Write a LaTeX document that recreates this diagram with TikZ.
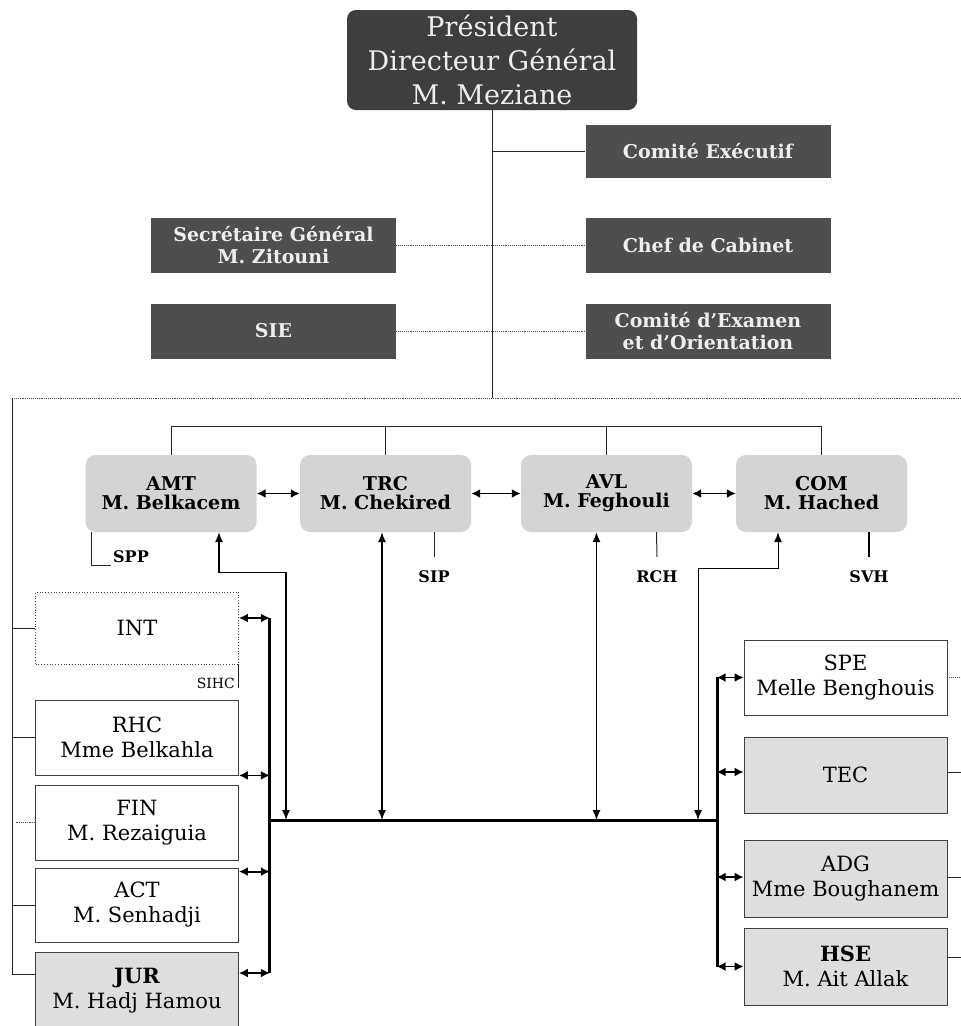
\documentclass[tikz,border=0pt]{standalone}
\usepackage{fontspec}
\setmainfont{DejaVu Serif}
\usetikzlibrary{arrows.meta}
\definecolor{presfill}{HTML}{3E3E3E}
\definecolor{darkfill}{HTML}{4E4E4E}
\definecolor{lighttext}{HTML}{EEEEEE}
\definecolor{lightbox}{HTML}{D4D4D4}
\definecolor{palebox}{HTML}{DEDEDE}
\definecolor{edge}{HTML}{404040}
\tikzset{
  presbox/.style={fill=presfill, text=lighttext, rounded corners=9pt, inner sep=0pt,
    align=center, minimum width=290pt, minimum height=100pt, font=\fontsize{27}{34}\selectfont},
  darkbox/.style={fill=darkfill, text=lighttext, inner sep=0pt, align=center,
    minimum width=245pt, minimum height=55pt, font=\bfseries\fontsize{19}{22}\selectfont},
  actbox/.style={fill=lightbox, rounded corners=10pt, inner sep=0pt, align=center,
    minimum width=171pt, minimum height=77pt, font=\bfseries\fontsize{19}{19}\selectfont},
  unitbox/.style={draw=edge, line width=0.8pt, fill=white, inner sep=0pt, align=center,
    minimum width=203pt, font=\fontsize{21}{25}\selectfont},
  greyunit/.style={unitbox, fill=palebox},
  tag/.style={inner sep=2pt, font=\bfseries\fontsize{16}{16}\selectfont},
  thinline/.style={line width=1pt, draw=black!85},
  dotline/.style={line width=0.9pt, draw=black!70, densely dotted},
  bus/.style={line width=3pt, draw=black},
  dbl/.style={{Latex[length=9pt,width=9pt]}-{Latex[length=9pt,width=9pt]}, line width=1.8pt},
  vdbl/.style={{Latex[length=10pt,width=8pt]}-{Latex[length=10pt,width=8pt]}, line width=1.2pt},
}
\begin{document}
\begin{tikzpicture}[x=1pt,y=-1pt]
\useasboundingbox (0,0) rectangle (961,1026);
\fill[white] (0,0) rectangle (961,1026);

% ---------- top management ----------
\node[presbox] (pres) at (492,60) {Président\\Directeur Général\\M. Meziane};
\node[darkbox, minimum height=53pt] (ce) at (708,151.5) {Comité Exécutif};
\node[darkbox] (sg) at (273.5,245) {Secrétaire Général\\M. Zitouni};
\node[darkbox] (cdc) at (708,245) {Chef de Cabinet};
\node[darkbox] (sie) at (273.5,331) {SIE};
\node[darkbox] (ceo) at (708,331) {Comité d'Examen\\et d'Orientation};

\coordinate (topL) at (12,398);
\coordinate (topR) at (961,398);
\coordinate (leftB) at (12,974);
\coordinate (bar) at (0,426);

\draw[thinline] (pres.south) -- (pres.south |- topL);
\draw[thinline] (pres.south |- ce.west) -- (ce.west);
\draw[dotline] (sg.east) -- (cdc.west);
\draw[dotline] (sie.east) -- (ceo.west);
\draw[dotline] (topL) -- (topR);
\draw[thinline] (topL) -- (leftB);

% ---------- activities ----------
\node[actbox] (amt) at (171,493.5) {AMT\\M. Belkacem};
\node[actbox] (trc) at (385.5,493.5) {TRC\\M. Chekired};
\node[actbox] (avl) at (606.5,493.5) {AVL\\M. Feghouli};
\node[actbox] (com) at (821.5,493.5) {COM\\M. Hached};

\draw[thinline] (amt.north) |- (com.north |- bar) -- (com.north);
\draw[thinline] (trc.north) -- (trc.north |- bar);
\draw[thinline] (avl.north) -- (avl.north |- bar);

\draw[dbl] (amt.east) -- (trc.west);
\draw[dbl] (trc.east) -- (avl.west);
\draw[dbl] (avl.east) -- (com.west);

\node[tag] (spp) at (131,557) {SPP};
\node[tag] (sip) at (434,577) {SIP};
\node[tag] (rch) at (657,577) {RCH};
\node[tag] (svh) at (869,577) {SVH};

\draw[thinline] ([xshift=-80pt]amt.south) |- (spp.south west);
\draw[thinline] ([xshift=48.5pt]trc.south) -- ([yshift=12pt]sip.north);
\draw[thinline] ([xshift=50pt]avl.south) -- ([yshift=12pt]rch.north);
\draw[line width=1.6pt] ([xshift=47.5pt]com.south) -- ([yshift=12pt]svh.north);

% ---------- buses ----------
\coordinate (lbTop) at (269,618);
\coordinate (lbBot) at (269,973);
\coordinate (mbL) at (269,820);
\coordinate (mbR) at (717,820);
\coordinate (rbTop) at (717,677);
\coordinate (rbBot) at (717,967);
\coordinate (b1) at (286,820);
\coordinate (b2) at (382,820);
\coordinate (b3) at (596.5,820);
\coordinate (b4) at (698,820);

\draw[bus] (lbTop) -- (lbBot);
\draw[bus] (mbL) -- (mbR);
\draw[bus] (rbTop) -- (rbBot);

\draw[vdbl] ([xshift=48pt]amt.south) -- ++(0,40) -| (b1);
\draw[vdbl] ([xshift=-3.5pt]trc.south) -- (b2);
\draw[vdbl] ([xshift=-10pt]avl.south) -- (b3);
\draw[vdbl, line width=1pt] ([xshift=-43.5pt]com.south) -- ++(0,36) -| (b4);

% ---------- left units ----------
\node[unitbox, minimum height=72pt, dotted] (int) at (137,628) {INT};
\node[unitbox, minimum height=75pt] (rhc) at (137,737.5) {RHC\\Mme Belkahla};
\node[unitbox, minimum height=75pt] (fin) at (137,822.5) {FIN\\M. Rezaiguia};
\node[unitbox, minimum height=74pt] (act) at (137,905) {ACT\\M. Senhadji};
\node[greyunit, minimum height=78pt] (jur) at (137,991) {\bfseries JUR\\M. Hadj Hamou};
\node[anchor=east, inner sep=1pt, font=\fontsize{14}{14}\selectfont] (sihc) at (236,683) {SIHC};
\draw[thinline] (int.south east) -- ++(0,24);

\draw[thinline] (int.west) -- (int.west -| topL);
\draw[thinline] (rhc.west) -- (rhc.west -| topL);
\draw[dotline] (fin.west) -- ([xshift=4pt]fin.west -| topL);
\draw[thinline] (act.west) -- (act.west -| topL);
\draw[thinline] ([yshift=17pt]jur.west) -- ([yshift=17pt]jur.west -| topL);

\draw[dbl] ([yshift=10pt]int.east) -- ++(31,0);
\draw[dbl] (rhc.south east) -- ++(31,0);
\draw[dbl] ([yshift=-4pt]act.north east) -- ++(31,0);
\draw[dbl] ([yshift=18pt]jur.east) -- ++(31,0);

% ---------- right units ----------
\node[unitbox, minimum height=75pt] (spe) at (845.5,677.5) {SPE\\Melle Benghouis};
\node[greyunit, minimum height=76pt] (tec) at (845.5,775) {TEC};
\node[greyunit, minimum height=77pt] (adg) at (845.5,878.5) {ADG\\Mme Boughanem};
\node[greyunit, minimum height=77pt] (hse) at (845.5,966.5) {\bfseries HSE\\M. Ait Allak};

\draw[dbl] (spe.west) -- ++(-27,0);
\draw[dbl] ([yshift=3pt]tec.west) -- ++(-27,0);
\draw[dbl] ([yshift=1.5pt]adg.west) -- ++(-27,0);
\draw[dbl] (hse.west) -- ++(-27,0);

\draw[dotline] (spe.east) -- ++(14,0);
\draw[thinline] ([yshift=3pt]tec.east) -- ++(14,0);
\draw[thinline] ([yshift=1.5pt]adg.east) -- ++(14,0);
\draw[thinline] ([yshift=9.5pt]hse.east) -- ++(14,0);
\end{tikzpicture}
\end{document}
